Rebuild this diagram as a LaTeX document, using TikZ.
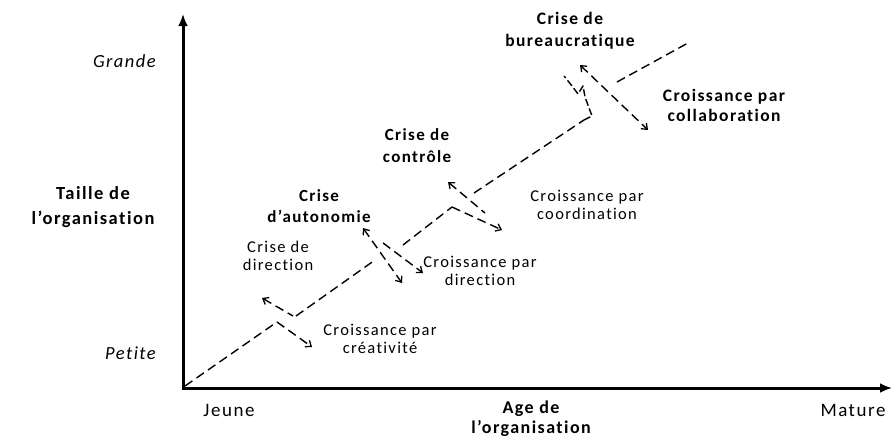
\documentclass[tikz,border=0pt]{standalone}
\usepackage{fontspec}
\setmainfont{Carlito}[LetterSpace=8,Ligatures=NoCommon]
\usetikzlibrary{arrows.meta}
\begin{document}
\begin{tikzpicture}[x=1pt,y=-1pt,
  axis/.style={line width=3pt,{Latex[length=12pt,width=10pt]}-{Latex[length=12pt,width=10pt]}},
  phase/.style={line width=1.4pt,dash pattern=on 9pt off 5pt,line join=round},
  barb/.tip={Straight Barb[length=5pt,width=8pt,line width=1.3pt]},
  txt/.style={font=\fontsize{16.5}{18}\selectfont,align=center,inner sep=0pt},
  txtb/.style={font=\bfseries\fontsize{17}{22}\selectfont,align=center,inner sep=0pt},
  axtxt/.style={font=\fontsize{19}{22}\selectfont,inner sep=0pt},
  tick/.style={font=\itshape\fontsize{18.5}{20}\selectfont,inner sep=0pt,anchor=east},
]
\useasboundingbox (0,0) rectangle (894,439);

% axes
\coordinate (O) at (183,388);
\coordinate (ytip) at (183,14);
\coordinate (xtip) at (892,388);
\draw[axis] (ytip) -- (O) -- (xtip);

% axis labels
\node[tick] (grande) at (156,61) {Grande};
\node[tick] (petite) at (156,353) {Petite};
\node[txtb,font=\bfseries\fontsize{18.5}{25}\selectfont] (taille) at (93,207) {Taille de\\l’organisation};
\node[axtxt] (jeune) at (229,410) {Jeune};
\node[txtb,font=\bfseries\fontsize{18}{20}\selectfont] (age) at (531,419) {Age de\\l’organisation};
\node[axtxt] (mature) at (853,410) {Mature};

% growth and crisis labels
\node[txtb,font=\bfseries\fontsize{17.5}{22}\selectfont] (c4) at (570,31) {Crise de\\bureaucratique};
\node[txtb,font=\bfseries\fontsize{17.5}{20}\selectfont] (g5) at (724,105) {Croissance par\\collaboration};
\node[txtb] (c3) at (417,146) {Crise de\\contrôle};
\node[txt] (g4) at (587,205) {Croissance par\\coordination};
\node[txtb,font=\bfseries\fontsize{17}{21}\selectfont] (c2) at (319,206) {Crise\\d’autonomie};
\node[txt] (c1) at (278,256) {Crise de\\direction};
\node[txt] (g2) at (480,271) {Croissance par\\direction};
\node[txt] (g1) at (380,339) {Croissance par\\créativité};

% growth phases
\coordinate (p0) at (185,386);
\coordinate (e1) at (277,322);
\coordinate (s1) at (296,316);
\coordinate (e2) at (375,260);
\coordinate (s2) at (403,245);
\coordinate (e3) at (452,207);
\coordinate (s3) at (474,193);
\coordinate (e4) at (584,120);
\coordinate (s4) at (617,82);
\coordinate (p5) at (688,43);
\draw[phase] (p0) -- (e1);
\draw[phase] (s1) -- (e2);
\draw[phase] (s2) -- (e3);
\draw[phase] (s3) -- (e4);
\draw[phase] (s4) -- (p5);

% crisis 1
\coordinate (a1) at (262,298);
\coordinate (b1) at (293,316);
\coordinate (t1) at (312,347);
\draw[phase,barb-] (a1) -- (b1);
\draw[phase,-barb] (e1) -- (t1);

% crisis 2
\coordinate (a2) at (363,228);
\coordinate (t2) at (402,283);
\coordinate (c2a) at (383,243);
\coordinate (c2b) at (423,273);
\draw[phase,barb-barb] (a2) -- (t2);
\draw[phase,-barb] (c2a) -- (c2b);

% crisis 3
\coordinate (a3) at (448,182);
\coordinate (b3) at (485,213);
\coordinate (t3) at (502,230);
\draw[phase,barb-] (a3) -- (b3);
\draw[phase,-barb] (e3) -- (t3);

% crisis 4
\coordinate (z1) at (592,116);
\coordinate (z2) at (585,97);
\coordinate (z3) at (583,86);
\coordinate (z4) at (578,94);
\coordinate (z5) at (572,86);
\coordinate (z6) at (564,76);
\coordinate (a4) at (580,65);
\coordinate (t4) at (648,130);
\draw[phase,dash pattern=on 7pt off 3pt] (e4) -- (z1) -- (z2) -- (z3) -- (z4) -- (z5) -- (z6);
\draw[phase,barb-barb] (a4) -- (t4);
\end{tikzpicture}
\end{document}
